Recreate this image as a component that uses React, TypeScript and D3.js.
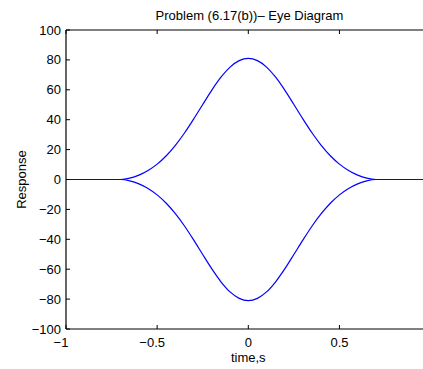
import React from "react";
import * as d3 from "d3";

const timeValues = [-1, -0.7, -0.65, -0.6, -0.55, -0.5, -0.45, -0.4, -0.35, -0.3, -0.25, -0.2, -0.15, -0.1, -0.05, 0, 0.05, 0.1, 0.15, 0.2, 0.25, 0.3, 0.35, 0.4, 0.45, 0.5, 0.55, 0.6, 0.65, 0.7, 1];
const upperResponse = [0, 0, 0.9, 2.9, 6.0, 10.3, 15.9, 22.9, 31.1, 40.4, 50.2, 59.8, 68.4, 75.2, 79.5, 81, 79.5, 75.2, 68.4, 59.8, 50.2, 40.4, 31.1, 22.9, 15.9, 10.3, 6.0, 2.9, 0.9, 0, 0];
const lowerResponse = [0, 0, -0.9, -2.9, -6.0, -10.3, -15.9, -22.9, -31.1, -40.4, -50.2, -59.8, -68.4, -75.2, -79.5, -81, -79.5, -75.2, -68.4, -59.8, -50.2, -40.4, -31.1, -22.9, -15.9, -10.3, -6.0, -2.9, -0.9, 0, 0];
const xTicks = [-1, -0.5, 0, 0.5, 1];
const yTicks = [-100, -80, -60, -40, -20, 0, 20, 40, 60, 80, 100];
const titleText = "Problem (6.17(b))\u2013 Eye Diagram";
const xLabel = "time,s";
const yLabel = "Response";

const W = 423;
const H = 369;
const L = 66;
const R = 430.6;
const T = 30;
const B = 329;
const FONT = "'Liberation Sans', Arial, Helvetica, sans-serif";

const fmt = (v: number) => (v < 0 ? "\u2212" + String(Math.abs(v)) : String(v));

export default function App() {
  const x = d3.scaleLinear().domain([-1, 1]).range([L, R]);
  const y = d3.scaleLinear().domain([-100, 100]).range([B, T]);
  const line = d3
    .line<number>()
    .x((_, i) => x(timeValues[i]))
    .y((d) => y(d))
    .curve(d3.curveMonotoneX);
  const tl = 4;
  return (
    <svg width={W} height={H} style={{ position: "absolute", left: 0, top: 0, background: "#fff" }} fontFamily={FONT}>
      <rect x={0} y={0} width={W} height={H} fill="#fff" />
      <path d={line(upperResponse) || ""} fill="none" stroke="#0000ff" strokeWidth={1.2} />
      <path d={line(lowerResponse) || ""} fill="none" stroke="#0000ff" strokeWidth={1.2} />
      <line x1={L} x2={R} y1={B} y2={B} stroke="#000" strokeWidth={1.2} />
      <line x1={L} x2={R} y1={T} y2={T} stroke="#000" strokeWidth={1.2} />
      <line x1={L} x2={L} y1={T} y2={B} stroke="#000" strokeWidth={1.2} />
      <line x1={R} x2={R} y1={T} y2={B} stroke="#000" strokeWidth={1.2} />
      {xTicks.map((t) => (
        <g key={"x" + t}>
          <line x1={x(t)} x2={x(t)} y1={B} y2={B - tl} stroke="#000" strokeWidth={1} />
          <line x1={x(t)} x2={x(t)} y1={T} y2={T + tl} stroke="#000" strokeWidth={1} />
          {x(t) < W - 8 && (
            <text x={x(t)} dx={t < 0 ? -5 : 0} y={347} fontSize={13} textAnchor="middle" fill="#000">
              {fmt(t)}
            </text>
          )}
        </g>
      ))}
      {yTicks.map((t) => (
        <g key={"y" + t}>
          <line x1={L} x2={L + tl} y1={y(t)} y2={y(t)} stroke="#000" strokeWidth={1} />
          <line x1={R} x2={R - tl} y1={y(t)} y2={y(t)} stroke="#000" strokeWidth={1} />
          <text x={61} y={y(t)} dy="0.35em" fontSize={13} textAnchor="end" fill="#000">
            {fmt(t)}
          </text>
        </g>
      ))}
      <text x={249.5} y={20} fontSize={13} textAnchor="middle" fill="#000">
        {titleText}
      </text>
      <text x={248.3} y={362} fontSize={13} textAnchor="middle" fill="#000">
        {xLabel}
      </text>
      <text transform={`translate(26,${(T + B) / 2}) rotate(-90)`} fontSize={13} textAnchor="middle" fill="#000">
        {yLabel}
      </text>
    </svg>
  );
}
